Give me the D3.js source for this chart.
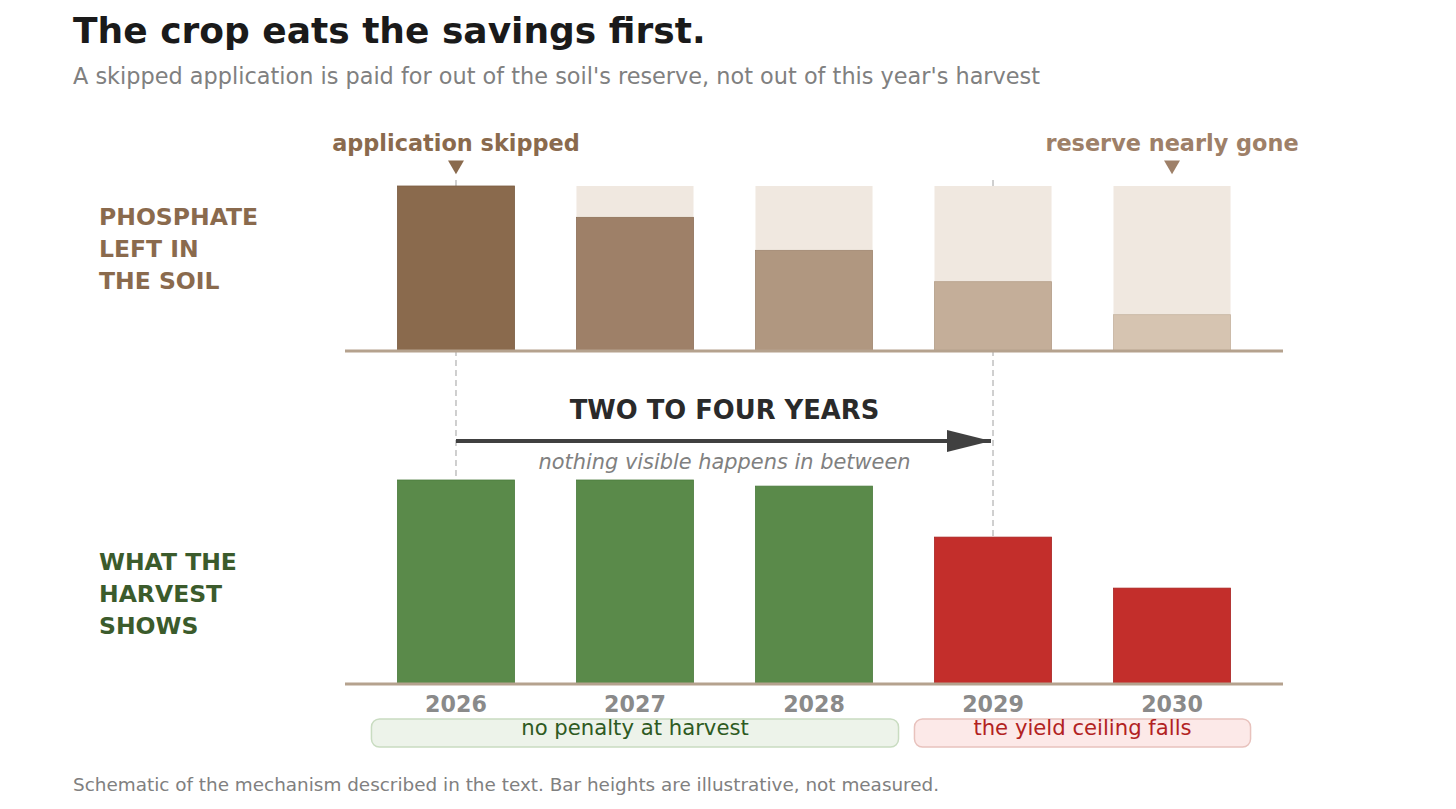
<!DOCTYPE html>
<html>
<head>
<meta charset="utf-8">
<script src="https://cdn.jsdelivr.net/npm/d3@7"></script>
<style>
  body { margin: 0; background: #fff; }
  svg { display: block; font-family: "DejaVu Sans", sans-serif; }
</style>
</head>
<body>
<div id="chart-area"></div>
<script>
const years = ["2026", "2027", "2028", "2029", "2030"]
const reserveLeft = [100, 81, 61, 42, 22]      // phosphate left in the soil (% of full)
const harvestShown = [100, 100, 97, 72, 47]    // what the harvest shows (% of full)
const skippedYear = "2026"
const goneYear = "2029"
const lastYear = "2030"
const spans = [
  { label: "no penalty at harvest", from: "2026", to: "2028", kind: "ok" },
  { label: "the yield ceiling falls", from: "2029", to: "2030", kind: "bad" }
]

const WIDTH = 1456, HEIGHT = 809
const AXIS = { LEFT: 345, RIGHT: 1283 }
const TOP = { Y0: 351, Y1: 186 }
const BOT = { Y0: 684, Y1: 480 }

const reserveFill = ["#8a6a4d", "#9e8068", "#b09780", "#c4ae99", "#d6c4b1"]
const reserveEdge = ["#7a5c42", "#8e715a", "#a08770", "#b49e89", "#c6b4a1"]

const svg = d3.select("#chart-area").append("svg")
  .attr("width", WIDTH)
  .attr("height", HEIGHT)
  .attr("viewBox", "0, 0, " + WIDTH + ", " + HEIGHT)

const x = d3.scaleBand()
  .domain(years)
  .range([AXIS.LEFT, AXIS.RIGHT])
  .paddingInner(0.346)
  .paddingOuter(0.293)

const cx = function(d) { return x(d) + x.bandwidth() / 2 }

const yTop = d3.scaleLinear().domain([0, 100]).range([TOP.Y0, TOP.Y1])
const yBot = d3.scaleLinear().domain([0, 100]).range([BOT.Y0, BOT.Y1])

// title + subtitle
svg.append("text")
  .attr("x", 73).attr("y", 43)
  .attr("font-size", "36px").attr("font-weight", "bold")
  .attr("fill", "#1a1a1a")
  .text("The crop eats the savings first.")

svg.append("text")
  .attr("x", 73).attr("y", 84)
  .attr("font-size", "22.4px")
  .attr("fill", "#808080")
  .text("A skipped application is paid for out of the soil's reserve, not out of this year's harvest")

// row labels
function rowLabel(lines, y0, colour) {
  const t = svg.append("text")
    .attr("font-size", "23.5px").attr("font-weight", "bold")
    .attr("fill", colour)
  lines.forEach(function(l, i) {
    t.append("tspan").attr("x", 99).attr("y", y0 + i * 32).text(l)
  })
}
rowLabel(["PHOSPHATE", "LEFT IN", "THE SOIL"], 225, "#8a6a4d")
rowLabel(["WHAT THE", "HARVEST", "SHOWS"], 570, "#3b5b2c")

// dashed guides, behind everything
;[skippedYear, goneYear].forEach(function(yr) {
  svg.append("line")
    .attr("x1", cx(yr)).attr("x2", cx(yr))
    .attr("y1", 180).attr("y2", BOT.Y0)
    .attr("stroke", "#c4c4c4").attr("stroke-width", 1.6)
    .attr("stroke-dasharray", "6,4")
})

// top panel: full-reserve ghost bars + remaining
svg.selectAll("rect.ghost")
  .data(years)
  .enter().append("rect")
  .attr("class", "ghost")
  .attr("x", function(d) { return x(d) })
  .attr("y", yTop(100))
  .attr("width", x.bandwidth())
  .attr("height", yTop(0) - yTop(100))
  .attr("fill", "#f0e8e0")

svg.selectAll("rect.reserve")
  .data(reserveLeft)
  .enter().append("rect")
  .attr("class", "reserve")
  .attr("x", function(d, i) { return x(years[i]) })
  .attr("y", function(d) { return yTop(d) })
  .attr("width", x.bandwidth())
  .attr("height", function(d) { return yTop(0) - yTop(d) })
  .attr("fill", function(d, i) { return reserveFill[i] })
  .attr("stroke", function(d, i) { return reserveEdge[i] })
  .attr("stroke-width", 0.8)

svg.append("line")
  .attr("x1", AXIS.LEFT).attr("x2", AXIS.RIGHT)
  .attr("y1", TOP.Y0).attr("y2", TOP.Y0)
  .attr("stroke", "#b5a28e").attr("stroke-width", 3)

// top annotations
function callout(yr, label, colour) {
  svg.append("text")
    .attr("x", cx(yr)).attr("y", 151)
    .attr("text-anchor", "middle")
    .attr("font-size", "22.4px").attr("font-weight", "bold")
    .attr("fill", colour)
    .text(label)
  svg.append("path")
    .attr("d", d3.symbol().type(d3.symbolTriangle).size(110))
    .attr("transform", "translate(" + cx(yr) + ",165) rotate(180)")
    .attr("fill", colour)
}
callout(skippedYear, "application skipped", "#8a6a4d")
callout(lastYear, "reserve nearly gone", "#9e8068")

// bottom panel
svg.selectAll("rect.harvest")
  .data(harvestShown)
  .enter().append("rect")
  .attr("class", "harvest")
  .attr("x", function(d, i) { return x(years[i]) })
  .attr("y", function(d) { return yBot(d) })
  .attr("width", x.bandwidth())
  .attr("height", function(d) { return yBot(0) - yBot(d) })
  .attr("fill", function(d, i) { return years[i] < goneYear ? "#5a8a4a" : "#c32e2b" })
  .attr("stroke", function(d, i) { return years[i] < goneYear ? "#4a7a3c" : "#a82422" })
  .attr("stroke-width", 0.8)

svg.append("line")
  .attr("x1", AXIS.LEFT).attr("x2", AXIS.RIGHT)
  .attr("y1", BOT.Y0).attr("y2", BOT.Y0)
  .attr("stroke", "#b5a28e").attr("stroke-width", 3)

// year labels
const xAxis = svg.append("g")
  .attr("transform", "translate(0," + BOT.Y0 + ")")
  .call(d3.axisBottom(x).tickSize(0).tickPadding(10))
xAxis.select(".domain").remove()
xAxis.selectAll("text")
  .attr("dy", "0")
  .attr("y", 28)
  .attr("font-family", "DejaVu Sans, sans-serif")
  .attr("font-size", "22.2px").attr("font-weight", "bold")
  .attr("fill", "#8a8a8a")

// the delay arrow
const midX = (cx(skippedYear) + cx(goneYear)) / 2
svg.append("defs").append("marker")
  .attr("id", "head")
  .attr("viewBox", "0 0 44 22")
  .attr("refX", 44).attr("refY", 11)
  .attr("markerWidth", 44).attr("markerHeight", 22)
  .attr("markerUnits", "userSpaceOnUse")
  .attr("orient", "auto")
  .append("path")
  .attr("d", "M0,0 L44,11 L0,22 Z")
  .attr("fill", "#404040")

svg.append("line")
  .attr("x1", cx(skippedYear)).attr("x2", cx(goneYear) - 2)
  .attr("y1", 441).attr("y2", 441)
  .attr("stroke", "#404040").attr("stroke-width", 4)
  .attr("marker-end", "url(#head)")

svg.append("text")
  .attr("x", midX).attr("y", 419)
  .attr("text-anchor", "middle")
  .attr("font-size", "25.8px").attr("font-weight", "bold")
  .attr("fill", "#2a2a2a")
  .text("TWO TO FOUR YEARS")

svg.append("text")
  .attr("x", midX).attr("y", 469)
  .attr("text-anchor", "middle")
  .attr("font-size", "20.9px").attr("font-style", "italic")
  .attr("fill", "#808080")
  .text("nothing visible happens in between")

// span boxes under the years
const spanStyle = {
  ok: { fill: "#edf3ea", stroke: "#c9dcc1", text: "#2e5a22", pad: 26 },
  bad: { fill: "#fce9e8", stroke: "#e8c2bd", text: "#b22222", pad: 20 }
}
spans.forEach(function(s) {
  const st = spanStyle[s.kind]
  const x0 = x(s.from) - st.pad
  const x1 = x(s.to) + x.bandwidth() + st.pad
  svg.append("rect")
    .attr("x", x0).attr("y", 719)
    .attr("width", x1 - x0).attr("height", 28)
    .attr("rx", 8)
    .attr("fill", st.fill)
    .attr("stroke", st.stroke).attr("stroke-width", 1.5)
  svg.append("text")
    .attr("x", (x0 + x1) / 2).attr("y", 735)
    .attr("text-anchor", "middle")
    .attr("font-size", "21.2px")
    .attr("fill", st.text)
    .text(s.label)
})

// footnote
svg.append("text")
  .attr("x", 73).attr("y", 791)
  .attr("font-size", "18.4px")
  .attr("fill", "#808080")
  .text("Schematic of the mechanism described in the text. Bar heights are illustrative, not measured.")
</script>
</body>
</html>
